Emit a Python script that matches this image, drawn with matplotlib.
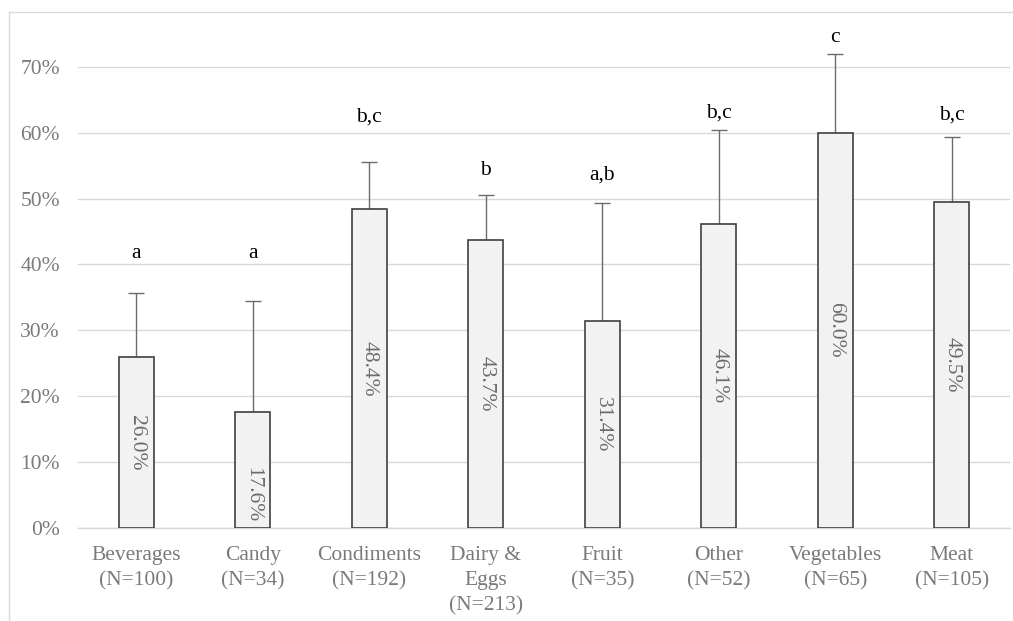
#!/usr/bin/env python3
"""Share of items per food category, with significance letters."""

import matplotlib.pyplot as plt
from matplotlib.lines import Line2D
from matplotlib.ticker import PercentFormatter

categories = ['Beverages\n(N=100)', 'Candy\n(N=34)', 'Condiments\n(N=192)',
              'Dairy &\nEggs\n(N=213)', 'Fruit\n(N=35)', 'Other\n(N=52)',
              'Vegetables\n(N=65)', 'Meat\n(N=105)']
values = [0.260, 0.176, 0.484, 0.437, 0.314, 0.461, 0.600, 0.495]
errors = [0.096, 0.168, 0.071, 0.068, 0.179, 0.143, 0.120, 0.098]
letters = ['a', 'a', 'b,c', 'b', 'a,b', 'b,c', 'c', 'b,c']
letter_y = [0.417, 0.417, 0.623, 0.542, 0.535, 0.630, 0.744, 0.626]

plt.rcParams['font.family'] = ['Liberation Serif', 'DejaVu Serif']

grid_col = '#d9d9d9'
text_col = '#7a7a7a'

fig = plt.figure(figsize=(10.13, 6.21), dpi=100)
ax = fig.add_axes([78 / 1013, 1 - 528 / 621, 932 / 1013, 514 / 621])

x = range(len(values))
ax.bar(x, values, width=0.3, color='#f2f2f2', edgecolor='#404040',
       linewidth=1.2, zorder=3)
ax.errorbar(x, values, yerr=[[0] * len(errors), errors], fmt='none',
            ecolor='#6b6b6b', elinewidth=1.0, capsize=5.5, capthick=1.0,
            zorder=2)

# value labels inside the bars, read top to bottom
label_pos = [v / 2 for v in values]
label_pos[1] = 0.050  # short bar: label sits near the base
for i, (v, yp) in enumerate(zip(values, label_pos)):
    ax.text(i, yp, f'{v * 100:.1f}%', rotation=270, ha='center', va='center',
            fontsize=15.5, color='#6b6b6b', zorder=4)

for i, (lab, yp) in enumerate(zip(letters, letter_y)):
    ax.text(i, yp, lab, ha='center', va='center', fontsize=15.5,
            color='black', clip_on=False)

ax.set_xlim(-0.5, len(values) - 0.5)
ax.set_ylim(0, 0.78)
ax.set_yticks([i / 10 for i in range(8)])
ax.yaxis.set_major_formatter(PercentFormatter(1.0, decimals=0))
ax.set_xticks(list(x))
ax.set_xticklabels(categories, linespacing=1.42)
ax.tick_params(axis='both', length=0, labelsize=15.5, labelcolor=text_col)
ax.tick_params(axis='y', pad=13)
ax.tick_params(axis='x', pad=13)

ax.grid(axis='y', color=grid_col, linewidth=1.0, zorder=0)
ax.set_axisbelow(True)
for side in ['top', 'right', 'left']:
    ax.spines[side].set_visible(False)
ax.spines['bottom'].set_color(grid_col)
ax.spines['bottom'].set_linewidth(1.0)

# chart frame
fig.add_artist(Line2D([9 / 1013, 9 / 1013], [0, 1 - 12 / 621],
                      color=grid_col, linewidth=1.0))
fig.add_artist(Line2D([9 / 1013, 1], [1 - 12 / 621, 1 - 12 / 621],
                      color=grid_col, linewidth=1.0))

fig.savefig('out.png', dpi=100)
